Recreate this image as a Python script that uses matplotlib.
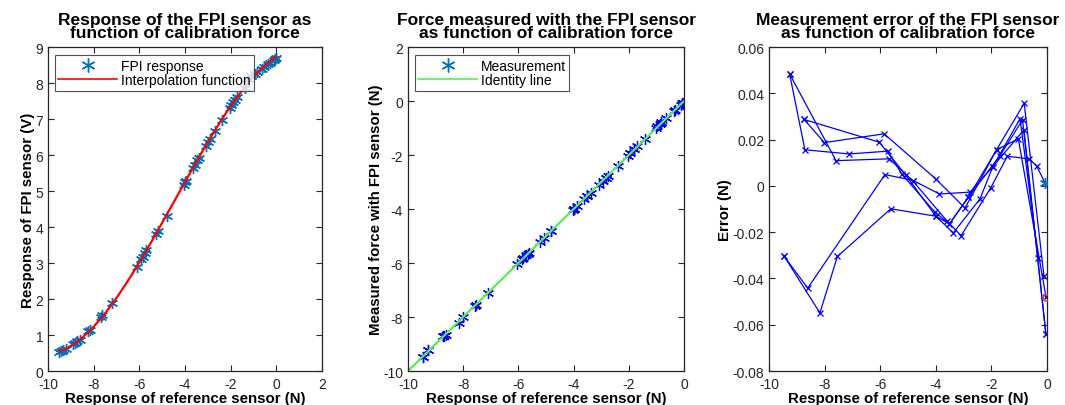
import numpy as np
import matplotlib
matplotlib.use("Agg")
import matplotlib.pyplot as plt
from matplotlib.lines import Line2D
from matplotlib.ticker import FuncFormatter

plt.rcParams["font.family"] = ["Liberation Sans", "DejaVu Sans"]
plt.rcParams["axes.unicode_minus"] = False

# calibration curve: reference force (N) vs FPI output (V)
ref_force_v = [-9.50, -9.42, -9.33, -9.22, -8.90, -8.82, -8.72, -8.62, -8.25, -8.15,
               -7.70, -7.62, -7.20, -6.10, -5.92, -5.85, -5.76, -5.70, -5.25, -5.18,
               -4.80, -4.06, -4.00, -3.96, -3.66, -3.58, -3.46, -3.40, -3.08, -2.98,
               -2.90, -2.68, -2.39, -2.05, -1.97, -1.90, -1.82, -1.72, -1.37, -1.23,
               -1.10, -0.95, -0.85, -0.64, -0.55, -0.38, -0.30, -0.12, -0.06, 0.00]
fpi_volt = [0.54, 0.55, 0.58, 0.60, 0.74, 0.78, 0.82, 0.86, 1.10, 1.14,
            1.50, 1.56, 1.88, 2.90, 3.10, 3.18, 3.28, 3.36, 3.82, 3.90,
            4.30, 5.18, 5.24, 5.28, 5.64, 5.72, 5.86, 5.92, 6.26, 6.36,
            6.45, 6.67, 6.97, 7.32, 7.40, 7.47, 7.54, 7.62, 7.86, 8.12,
            8.20, 8.26, 8.30, 8.40, 8.44, 8.52, 8.56, 8.64, 8.68, 8.70]

# measurement runs: reference force (N) and FPI error (N)
run_force = [
    [-9.26, -8.71, -7.12, -5.73, -5.23, -4.03, -3.51, -2.83, -1.69, -0.88, -0.04],
    [-9.26, -7.59, -5.67, -4.81, -3.61, -3.09, -2.03, -1.43, -0.64, -0.37, -0.07],
    [-8.74, -8.01, -5.86, -4.00, -2.95, -1.81, -0.82, -0.11],
    [-8.74, -6.04, -5.07, -4.00, -3.37, -2.41, -1.95, -0.97, -0.31],
    [-9.45, -8.61, -5.83, -4.81, -3.87, -2.77, -1.95, -0.83, -0.04],
    [-9.45, -8.17, -7.54, -5.62, -4.00, -3.51, -2.83, -1.81, -1.03, -0.04],
]
run_error = [
    [0.0484, 0.0156, 0.0138, 0.0150, 0.0052, -0.0114, -0.0164, -0.0049, 0.0131, 0.0285, -0.0640],
    [0.0484, 0.0109, 0.0117, 0.0019, -0.0150, -0.0215, -0.0010, 0.0128, 0.0117, 0.0085, 0.0013],
    [0.0287, 0.0187, 0.0225, 0.0030, -0.0096, 0.0157, 0.0357, -0.0390],
    [0.0287, 0.0189, 0.0045, -0.0131, -0.0203, -0.0056, 0.0083, 0.0290, -0.0313],
    [-0.0305, -0.0442, 0.0049, 0.0023, -0.0035, -0.0027, 0.0083, 0.0242, -0.0640],
    [-0.0305, -0.0549, -0.0305, -0.0099, -0.0131, -0.0164, -0.0049, 0.0157, 0.0203, -0.0478],
]
zero_star = (-0.07, 0.0013)
zero_circle = (-0.04, -0.0478)
err_ticks = [-0.08, -0.06, -0.04, -0.02, 0, 0.02, 0.04, 0.06]

mblue = (0, 0.447, 0.741)
morange = (0.85, 0.325, 0.098)
tick_col = (0.15, 0.15, 0.15)
green = (0.35, 0.92, 0.35)
star = (6, 2, 0)  # asterisk marker

fig = plt.figure(figsize=(10.65, 4.06), dpi=100)
ax1 = fig.add_axes([0.0451, 0.0837, 0.2573, 0.798])
ax2 = fig.add_axes([0.3831, 0.0837, 0.2592, 0.798])
ax3 = fig.add_axes([0.7221, 0.0837, 0.2610, 0.798])


def style(ax):
    ax.tick_params(direction="in", top=True, right=True, labelsize=10,
                   colors=tick_col, length=4, width=0.8)
    ax.tick_params(axis="x", pad=4.2)
    for s in ax.spines.values():
        s.set_color(tick_col)
        s.set_linewidth(0.9)
    for t in ax.get_yticklabels():
        t.set_verticalalignment("center_baseline")


def legend(ax, handles, labels):
    leg = ax.legend(handles, labels, loc="upper left", bbox_to_anchor=(0.025, 0.975),
                    fontsize=10, frameon=True, fancybox=False, borderpad=0.25,
                    labelspacing=0.05, handlelength=4.2, handletextpad=0.3,
                    borderaxespad=0)
    leg.get_frame().set_edgecolor(tick_col)
    leg.get_frame().set_linewidth(0.8)


fmt = FuncFormatter(lambda v, p: f"{round(v, 4):g}")
lab = dict(fontsize=10.8, fontweight="bold", labelpad=0)
tit = dict(fontsize=12.5, fontweight="bold", pad=7, linespacing=0.82)

# left: sensor response and fitted curve
coef = np.polyfit(ref_force_v, fpi_volt, 3)
xf = np.linspace(min(ref_force_v), max(ref_force_v), 200)
ax1.plot(ref_force_v, fpi_volt, ls="none", marker=star, color=mblue, ms=8, mew=1)
ax1.plot(xf, np.polyval(coef, xf), "-", color="red", lw=1.6)
ax1.set_xlim(-10, 2)
ax1.set_ylim(0, 9)
ax1.set_xticks(range(-10, 3, 2))
ax1.set_yticks(range(0, 10))
ax1.set_title("Response of the FPI sensor as\nfunction of calibration force", **tit)
ax1.set_xlabel("Response of reference sensor (N)", **lab)
ax1.set_ylabel("Response of FPI sensor (V)", **lab)
legend(ax1, [Line2D([], [], ls="none", marker=star, color=mblue, ms=10, mew=1),
             Line2D([], [], color="red", lw=1.2)],
       ["FPI response", "Interpolation function"])
style(ax1)

# middle: measured force vs reference force
for xs, es in zip(run_force, run_error):
    xs = np.array(xs)
    ax2.plot(xs, xs + np.array(es), ls="none", marker=star, color="blue", ms=8, mew=0.9)
ax2.plot([-10, 0], [-10, 0], "-", color=green, lw=1.6)
ax2.set_xlim(-10, 0)
ax2.set_ylim(-10, 2)
ax2.set_xticks(range(-10, 1, 2))
ax2.set_yticks(range(-10, 3, 2))
ax2.set_title("Force measured with the FPI sensor\nas function of calibration force", **tit)
ax2.set_xlabel("Response of reference sensor (N)", **lab)
ax2.set_ylabel("Measured force with FPI sensor (N)", **lab)
legend(ax2, [Line2D([], [], ls="none", marker=star, color=mblue, ms=10, mew=1),
             Line2D([], [], color=green, lw=1.2)],
       ["Measurement", "Identity line"])
style(ax2)

# right: error of each run
for xs, es in zip(run_force, run_error):
    ax3.plot(xs, es, "-x", color="blue", lw=0.9, ms=5, mew=0.9)
ax3.plot(*zero_star, ls="none", marker=star, color=mblue, ms=8, mew=1, zorder=4)
ax3.plot(*zero_circle, "o", mfc="none", mec=morange, ms=5, mew=1.2, zorder=4)
ax3.set_xlim(-10, 0)
ax3.set_ylim(-0.08, 0.06)
ax3.set_xticks(range(-10, 1, 2))
ax3.set_yticks(err_ticks)
ax3.yaxis.set_major_formatter(fmt)
ax3.set_title("Measurement error of the FPI sensor\nas function of calibration force", **tit)
ax3.set_xlabel("Response of reference sensor (N)", **lab)
ax3.set_ylabel("Error (N)", **lab)
style(ax3)

plt.savefig("out.png", dpi=100)
